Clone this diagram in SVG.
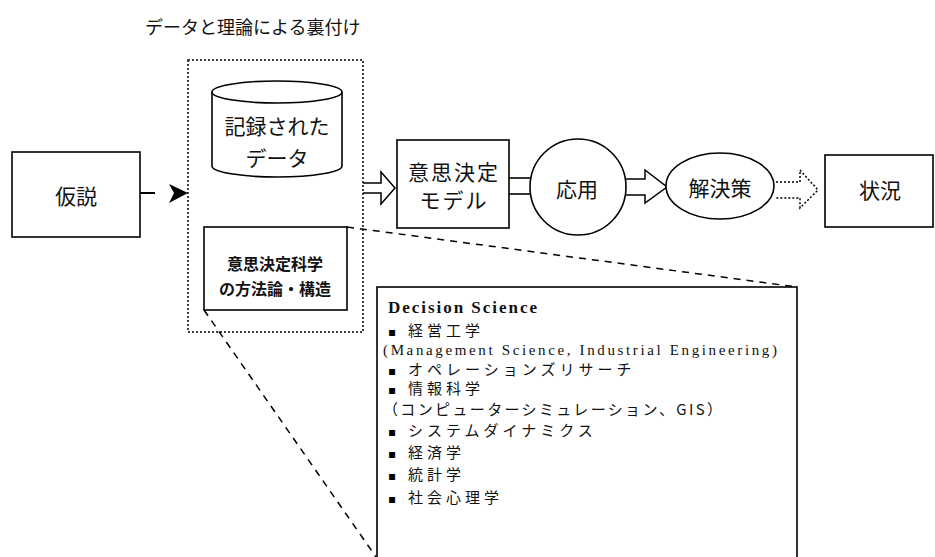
<svg xmlns="http://www.w3.org/2000/svg" width="935" height="557" viewBox="0 0 935 557">
<style>
.bx{fill:#fff;stroke:#000;stroke-width:1.6}
.jp{font-family:"Noto Sans CJK JP","Liberation Sans",sans-serif;fill:#111}
.big{font-size:21px;text-anchor:middle}
.lst{font-size:15px;letter-spacing:4px}
.bul{font-family:"DejaVu Sans",sans-serif;font-size:12px}
.ser{font-family:"Liberation Serif","Noto Sans CJK JP",serif;fill:#111}
.dash{fill:none;stroke:#000;stroke-width:1.5;stroke-dasharray:7,6}
.dot{fill:none;stroke:#000;stroke-width:1.5;stroke-dasharray:2,2}
.hol{fill:#fff;stroke:#000;stroke-width:1.5;stroke-linejoin:miter}
</style>
<rect width="935" height="557" fill="#fff"/>
<text class="jp" x="145" y="34" font-size="18">データと理論による裏付け</text>

<g id="connectors">
  <line x1="140" y1="193" x2="155" y2="193" stroke="#000" stroke-width="2"/>
  <polygon points="169,184 188,193 169,203 174,193" fill="#000"/>
  <polyline class="hol" points="363,183 381,183 381,172 395,188 381,204 381,193 363,193"/>
  <line x1="509" y1="178" x2="531" y2="178" stroke="#000" stroke-width="1.6"/>
  <line x1="509" y1="194" x2="531" y2="194" stroke="#000" stroke-width="1.6"/>
  <polyline class="hol" points="625,179 645,179 645,170 667,187 645,203 645,195 625,195"/>
  <polyline class="dot" points="776,182 800,182 800,170 818,190 800,208 800,198 776,198"/>
  <line class="dash" x1="347" y1="227" x2="797" y2="287"/>
  <line class="dash" x1="204" y1="310" x2="376" y2="557"/>
</g>

<g id="container">
  <rect class="dot" x="188" y="60" width="175" height="272"/>
</g>

<g id="hypothesis">
  <rect class="bx" x="12" y="152" width="128" height="85"/>
  <text class="jp big" x="76" y="204">仮説</text>
</g>

<g id="data">
  <path class="bx" d="M212,92 V166 A65,11 0 0 0 342,166 V92"/>
  <ellipse class="bx" cx="277" cy="92" rx="65" ry="11"/>
  <text class="jp big" x="277" y="134" font-size="22">記録された</text>
  <text class="jp big" x="277" y="166" font-size="22">データ</text>
</g>

<g id="methods">
  <rect class="bx" x="204" y="227" width="143" height="83"/>
  <text class="jp" x="275" y="270" font-size="16" font-weight="bold" text-anchor="middle">意思決定科学</text>
  <text class="jp" x="275" y="295" font-size="16" font-weight="bold" text-anchor="middle">の方法論・構造</text>
</g>

<g id="model">
  <rect class="bx" x="397" y="140" width="112" height="88"/>
  <text class="jp big" x="454" y="180" font-size="20" letter-spacing="2">意思決定</text>
  <text class="jp big" x="454" y="208" font-size="20" letter-spacing="2">モデル</text>
</g>

<g id="application">
  <circle class="bx" cx="578" cy="187" r="48"/>
  <text class="jp big" x="577" y="197" font-size="22">応用</text>
</g>

<g id="solution">
  <ellipse class="bx" cx="720" cy="186" rx="54" ry="33"/>
  <text class="jp big" x="720" y="196" font-size="22">解決策</text>
</g>

<g id="situation">
  <rect class="bx" x="825" y="155" width="108" height="72"/>
  <text class="jp big" x="880" y="198" font-size="22">状況</text>
</g>

<g id="decision-science">
  <rect class="bx" x="377" y="287" width="420" height="280"/>
  <text class="ser" x="388" y="313" font-size="17" font-weight="bold" textLength="149" lengthAdjust="spacing">Decision Science</text>
  <text class="bul" x="388" y="336">▪</text><text class="jp lst" x="408" y="336">経営工学</text>
  <text class="ser" x="383" y="355" font-size="15" textLength="394" lengthAdjust="spacing">(Management Science, Industrial Engineering)</text>
  <text class="bul" x="388" y="375">▪</text><text class="jp lst" x="408" y="375">オペレーションズリサーチ</text>
  <text class="bul" x="388" y="394">▪</text><text class="jp lst" x="408" y="394">情報科学</text>
  <text class="jp" x="383" y="415" font-size="15" textLength="339" lengthAdjust="spacing">（コンピューターシミュレーション、GIS）</text>
  <text class="bul" x="388" y="436">▪</text><text class="jp lst" x="408" y="436">システムダイナミクス</text>
  <text class="bul" x="388" y="458">▪</text><text class="jp lst" x="408" y="458">経済学</text>
  <text class="bul" x="388" y="480">▪</text><text class="jp lst" x="408" y="480">統計学</text>
  <text class="bul" x="388" y="503">▪</text><text class="jp lst" x="408" y="503">社会心理学</text>
</g>
</svg>
